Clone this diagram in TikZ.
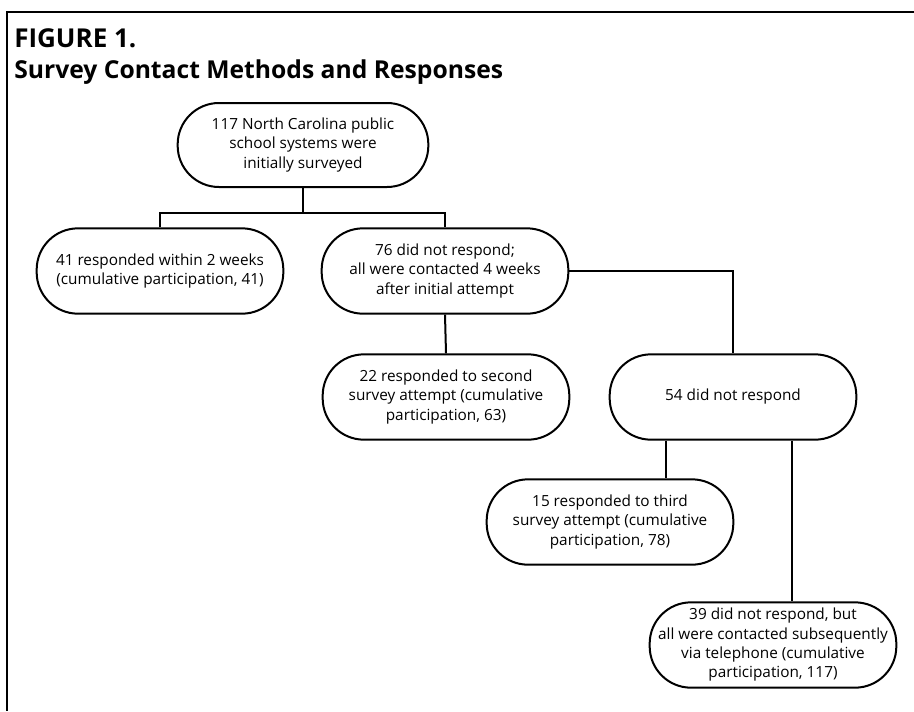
\documentclass[tikz,border=0pt]{standalone}
\usepackage{fontspec}
\setmainfont{Open Sans}
\begin{document}
\begin{tikzpicture}[x=0.75pt,y=-0.75pt,
  box/.style={draw,line width=1.5pt,rounded corners=31pt,minimum width=185pt,minimum height=64pt,align=center,inner sep=0pt,font=\fontsize{11.5}{14.5}\selectfont},
  conn/.style={line width=1.5pt}]
\useasboundingbox (0,0) rectangle (914,711);
\draw[line width=1.5pt] (914,12) -- (7,12) -- (7,711);
\node[anchor=base west,font=\fontsize{19.5}{22}\selectfont\bfseries,inner sep=0pt] (t1) at (14,47) {FIGURE 1.};
\node[anchor=base west,font=\fontsize{18.5}{22}\selectfont\bfseries,inner sep=0pt] (t2) at (14,78) {Survey Contact Methods and Responses};
\node[box,minimum width=188pt,minimum height=63pt] (n1) at (303,145) {117 North Carolina public\\school systems were\\initially surveyed};
\node[box] (n2) at (160,271) {41 responded within 2 weeks\\(cumulative participation, 41)};
\node[box] (n3) at (445,271) {76 did not respond;\\all were contacted 4 weeks\\after initial attempt};
\node[box] (n4) at (446,397) {22 responded to second\\survey attempt (cumulative\\participation, 63)};
\node[box] (n5) at (733,397) {54 did not respond};
\node[box] (n6) at (610,522) {15 responded to third\\survey attempt (cumulative\\participation, 78)};
\node[box] (n7) at (773,645) {39 did not respond, but\\all were contacted subsequently\\via telephone (cumulative\\participation, 117)};
\coordinate (j1) at (303,213);
\draw[conn] (n1.south) -- (j1);
\draw[conn] (n2.north) |- (j1) -| (n3.north);
\draw[conn] (n3.south) -- (n4.north);
\draw[conn] (n3.east) -| (n5.north);
\draw[conn] (666,0 |- n5.south) -- (666,0 |- n6.north);
\draw[conn] (792,0 |- n5.south) -- (792,0 |- n7.north);
\end{tikzpicture}
\end{document}
